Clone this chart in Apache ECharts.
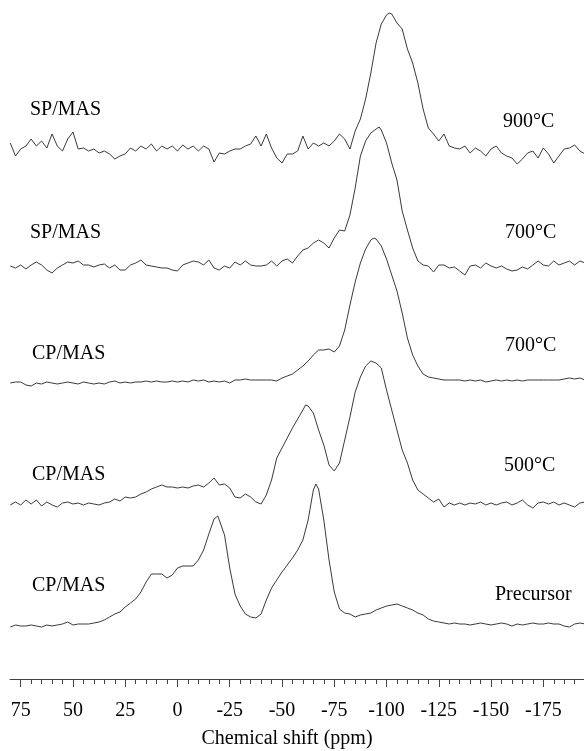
<!DOCTYPE html>
<html><head><meta charset="utf-8">
<script src="https://cdn.jsdelivr.net/npm/echarts@6/dist/echarts.min.js"></script>
<style>html,body{margin:0;padding:0;background:#fff}#c{width:584px;height:751px}</style>
</head><body><div id="c"></div>
<script>
// Chemical shift grid (ppm)
const ppm = [80,77.5,75,72.5,70,67.5,65,62.5,60,57.5,55,52.5,50,47.5,45,42.5,40,37.5,35,32.5,30,27.5,25,22.5,20,17.5,15,12.5,10,7.5,5,2.5,0,-2.5,-5,-7.5,-10,-12.5,-15,-17.5,-20,-22.5,-25,-27.5,-30,-32.5,-35,-37.5,-40,-42.5,-45,-47.5,-50,-52.5,-55,-57.5,-60,-62.5,-65,-67.5,-70,-72.5,-75,-77.5,-80,-82.5,-85,-87.5,-90,-92.5,-95,-97.5,-100,-102.5,-105,-107.5,-110,-112.5,-115,-117.5,-120,-122.5,-125,-127.5,-130,-132.5,-135,-137.5,-140,-142.5,-145,-147.5,-150,-152.5,-155,-157.5,-160,-162.5,-165,-167.5,-170,-172.5,-175,-177.5,-180,-182.5,-185,-187.5,-190,-192.5,-195];

// Intensities (arbitrary units) on the ppm grid
const sp900 = [8,-5,2,5,12,5,10,3,17,5,
 0,12,19,2,3,0,2,-2,0,-3,
 -8,-5,-3,3,0,5,2,7,0,5,
 2,5,0,6,2,5,0,5,2,-11,
 -2,-3,0,2,2,5,7,15,5,17,
 3,-7,-12,-3,-3,0,15,2,8,5,
 8,5,10,17,12,2,20,32,52,78,
 108,127,136,137,128,122,102,88,68,42,
 23,17,10,17,5,3,2,5,-2,3,
 0,-5,2,5,-2,-5,-7,-13,-8,-2,
 0,-7,3,-3,-12,-5,2,3,6,0,
 -3];
const sp700 = [2,0,3,-1,3,6,3,-2,-5,0,
 3,6,5,7,3,3,1,3,4,0,
 3,-2,-2,3,5,8,3,2,1,0,
 0,-2,-3,3,5,7,6,3,8,0,
 -2,2,0,6,3,7,3,2,2,3,
 7,2,7,9,5,12,18,20,25,28,
 25,20,30,38,37,53,80,112,127,135,
 139,138,125,105,88,57,38,20,7,3,
 2,-4,3,3,0,1,-3,-7,2,3,
 0,5,2,0,2,-1,-3,-2,1,-1,
 3,7,3,2,7,3,5,7,3,7,
 5];
const cp700 = [0,1,1,-2,-3,0,-1,1,0,-1,
 0,1,0,-1,1,0,-1,0,-1,1,
 2,0,1,0,1,1,2,1,2,1,
 1,2,1,2,1,3,2,3,1,2,
 1,2,0,3,3,4,3,3,3,3,
 3,2,5,7,9,13,17,22,28,33,
 33,34,31,37,53,78,101,120,134,143,
 144,137,124,108,92,70,45,28,17,9,
 6,5,4,3,3,3,3,2,3,2,
 3,1,2,3,2,3,2,3,2,3,
 3,3,3,3,3,3,4,5,4,5,
 3];
const cp500 = [0,3,0,5,1,5,-1,3,0,-2,
 2,3,1,2,0,2,1,0,2,3,
 6,4,8,7,8,11,13,16,18,20,
 18,18,17,18,17,19,20,18,22,27,
 20,21,17,8,7,11,8,3,1,10,
 25,47,57,67,77,86,95,99,92,75,
 60,40,34,42,65,88,113,128,139,144,
 142,137,115,95,75,55,42,25,15,11,
 7,3,6,-2,2,0,2,0,2,1,
 3,0,2,0,2,3,0,2,5,0,
 -3,2,3,1,3,0,2,0,-2,2,
 3];
const cpPrecursor = [-1,1,0,0,1,0,-1,1,0,1,
 2,4,1,2,2,2,3,4,6,9,
 12,14,19,23,27,34,44,52,52,52,
 48,51,58,60,60,60,66,76,92,107,
 109,91,58,32,20,12,9,8,12,26,
 38,46,54,61,68,76,86,106,136,137,
 106,66,34,17,13,12,9,11,12,13,
 16,18,20,21,22,20,18,16,13,11,
 7,5,4,3,2,3,2,2,1,2,
 3,2,1,2,3,2,0,2,1,2,
 3,2,2,3,2,2,0,-1,2,3,
 2];

// Peak apex points [ppm, intensity] between grid points
const apex900 = [[-101.3, 138]];
const apexSp700 = [[-96.5, 141]];
const apexCp700 = [[-94, 145]];
const apexCp500 = [[-61.3, 100]];
const apexPrecursor = [[-19.3, 110], [-66.2, 142]];

const leftLabels = ['SP/MAS', 'SP/MAS', 'CP/MAS', 'CP/MAS', 'CP/MAS'];
const rightLabels = ['900°C', '700°C', '700°C', '500°C', 'Precursor'];
const majorTicks = [75, 50, 25, 0, -25, -50, -75, -100, -125, -150, -175];
const axisTitle = 'Chemical shift (ppm)';

// ---- layout (not data) ----
const baselines = [528, 411, 296, 174, 53];  // vertical stacking offsets
const leftPos = [[30,110],[30,233],[32,354],[32,475],[32,586]];
const rightPos = [[503,122],[505,233],[505,346],[504,466],[495,595]];
const FONT = '"Liberation Serif","Times New Roman",serif';

const minorTicks = [];
for (let v = 75; v >= -190; v -= 5) minorTicks.push(v);

const spectra = [
  [sp900, apex900], [sp700, apexSp700], [cp700, apexCp700],
  [cp500, apexCp500], [cpPrecursor, apexPrecursor]
];

const series = spectra.map(([vals, apex], k) => {
  const pts = ppm.map((p, i) => [p, vals[i]]).concat(apex);
  pts.sort((a, b) => b[0] - a[0]);
  return {
    type: 'line', xAxisIndex: 0, yAxisIndex: 0,
    data: pts.map(d => [d[0], d[1] + baselines[k]]),
    showSymbol: false, symbol: 'none', silent: true,
    lineStyle: { color: '#3a3a3a', width: 1 },
    animation: false
  };
});

const graphic = [];
leftLabels.forEach((t, k) => graphic.push({
  type: 'text', x: leftPos[k][0], y: leftPos[k][1], silent: true,
  style: { text: t, font: '20px ' + FONT, fill: '#000', align: 'left', verticalAlign: 'middle' }
}));
rightLabels.forEach((t, k) => graphic.push({
  type: 'text', x: rightPos[k][0], y: rightPos[k][1], silent: true,
  style: { text: t, font: '20px ' + FONT, fill: '#000', align: 'left', verticalAlign: 'middle' }
}));

const axisBase = { type: 'value', min: -194.47, max: 80.12, inverse: true, gridIndex: 0,
  position: 'bottom', offset: 0, splitLine: { show: false } };

const chart = echarts.init(document.getElementById('c'), null, { renderer: 'canvas' });
chart.setOption({
  animation: false,
  backgroundColor: '#fff',
  grid: { left: 10, right: 0, top: 0, bottom: 72, containLabel: false, outerBoundsMode: 'none' },
  xAxis: [
    Object.assign({}, axisBase, {
      axisLine: { show: true, lineStyle: { color: '#444', width: 1 } },
      axisTick: { show: true, customValues: minorTicks, length: 5, lineStyle: { color: '#444', width: 1 } },
      axisLabel: { show: false },
      name: axisTitle, nameLocation: 'middle', nameGap: 50,
      nameTextStyle: { fontFamily: FONT, fontSize: 20, color: '#000', padding: [0, 20, 0, 0] }
    }),
    Object.assign({}, axisBase, {
      axisLine: { show: false },
      axisTick: { show: true, customValues: majorTicks, length: 8, lineStyle: { color: '#444', width: 1 } },
      axisLabel: { show: true, customValues: majorTicks, margin: 22, fontFamily: FONT, fontSize: 20, color: '#000',
        formatter: v => String(v) }
    })
  ],
  yAxis: { type: 'value', min: 0, max: 679, show: false },
  series: series,
  graphic: graphic
});
</script>
</body></html>
